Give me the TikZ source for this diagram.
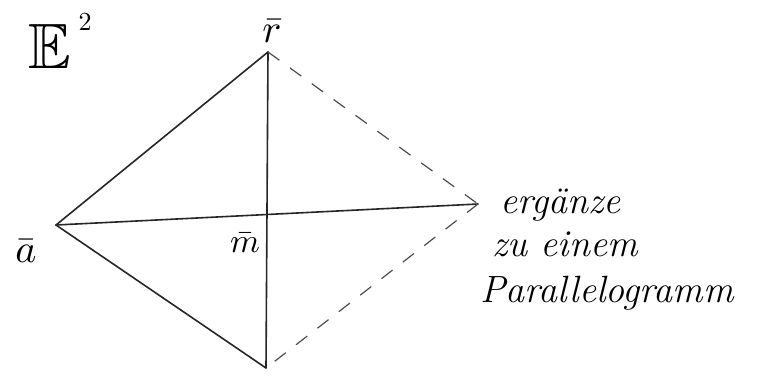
\documentclass[tikz,border=0pt]{standalone}
\usepackage{graphicx}
\usepackage{amssymb}
\begin{document}
\begin{tikzpicture}[x=1pt,y=-1pt,
  edge/.style={line width=1.6pt,draw=black!85,line cap=round},
  dline/.style={line width=1.2pt,draw=black!70,dash pattern=on 14pt off 13pt},
  lbl/.style={inner sep=0pt,anchor=base},
  txt/.style={inner sep=0pt,anchor=base west,font=\fontsize{38}{42}\selectfont\itshape}]
\useasboundingbox (0,0) rectangle (765,376);
\coordinate (r) at (268,52);
\coordinate (a) at (56,225);
\coordinate (p) at (478,204);
\coordinate (b) at (266,368);
\coordinate (m) at (268,215);
\draw[edge] (a) -- (r);
\draw[edge] (a) -- (p);
\draw[edge] (a) -- (b);
\draw[edge] (r) -- (b);
\draw[dline] (r) -- (p);
\draw[dline] (p) -- (b);
\node[lbl] (E) at (50,68) {\scalebox{6.4}{$\mathbb{E}$}};
\node[lbl] (E2) at (85,30) {\scalebox{2.6}{2}};
\node[lbl] (rl) at (272,42) {\scalebox{4}{$\bar r$}};
\node[lbl] (al) at (26,262) {\scalebox{4}{$\bar a$}};
\node[lbl] (ml) at (245,252) {\scalebox{3.4}{$\bar m$}};
\node[txt] (t1) at (500,213) {ergänze};
\node[txt] (t2) at (492,256) {zu einem};
\node[txt] (t3) at (480,302) {Parallelogramm};
\end{tikzpicture}
\end{document}
